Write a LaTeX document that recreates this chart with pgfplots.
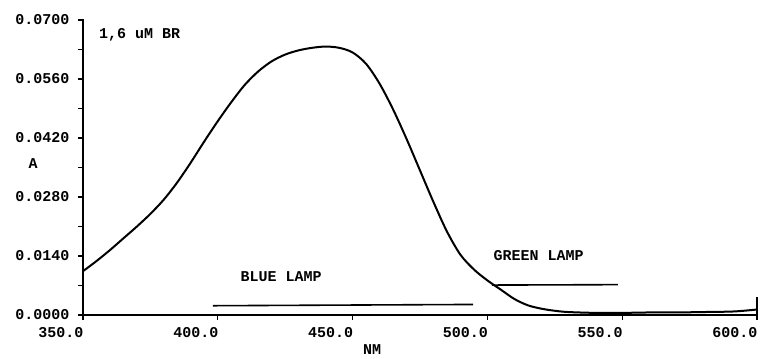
\documentclass[border=0pt]{standalone}
\usepackage{fontspec}
\setmainfont{Liberation Mono}
\usepackage{pgfplots}
\pgfplotsset{compat=1.18}

% absorbance spectrum of 1.6 uM BR
\pgfplotstableread{
nm     A
350    0.0104
355    0.0128
360    0.0154
365    0.0182
370    0.0210
375    0.0240
380    0.0274
385    0.0315
390    0.0362
395    0.0412
400    0.0460
405    0.0505
410    0.0546
415    0.0578
420    0.0602
425    0.0618
430    0.0628
435    0.0634
440    0.0637
445    0.0634
450    0.0623
455    0.0596
460    0.0549
465    0.0488
470    0.0418
475    0.0343
480    0.0268
485    0.0198
490    0.0143
495    0.0108
500    0.0082
505    0.0060
510    0.0038
515    0.0023
520    0.0015
525    0.0010
530    0.0007
540    0.0005
550    0.0005
560    0.0006
570    0.0006
580    0.0007
590    0.0008
595    0.0010
600    0.0013
}\spectrum

% lamp emission bands
\pgfplotstableread{
nm     A
398.2  0.0022
494.7  0.0025
}\bluelamp
\pgfplotstableread{
nm     A
501.7  0.0071
548.4  0.0072
}\greenlamp

\begin{document}
\begin{tikzpicture}
\begin{axis}[
  name=ax,
  at={(0,0)}, anchor=south west,
  scale only axis,
  width=674pt, height=295pt,
  xmin=350, xmax=600,
  ymin=0, ymax=0.07,
  axis x line*=bottom, axis y line*=left,
  axis line style={black, line width=1.5pt},
  xtick={350,400,450,500,550,600},
  xticklabels={350.0,400.0,450.0,500.0,550.0,600.0},
  ytick={0,0.014,0.028,0.042,0.056,0.070},
  yticklabels={0.0000,0.0140,0.0280,0.0420,0.0560,0.0700},
  scaled y ticks=false,
  minor ytick={0.007,0.021,0.035,0.049,0.063},
  tick align=outside,
  major tick length=5pt,
  minor tick length=5pt,
  tick style={black, line width=1.3pt},
  tick label style={font=\fontsize{15}{15}\selectfont\bfseries},
  xticklabel style={anchor=north east, xshift=4pt, yshift=-4pt},
  yticklabel style={anchor=east, xshift=-5pt},
  label style={font=\fontsize{15}{15}\selectfont\bfseries},
  xlabel={NM},
  xlabel style={at={(axis description cs:0.429,-0.118)}, anchor=center},
  ylabel={A},
  ylabel style={at={(axis description cs:-0.074,0.515)}, anchor=center, rotate=-90},
  clip=false,
]
% plotter frame: baseline, absorbance axis and their ticks
\draw[black, line width=1.5pt, line cap=rect] (axis cs:350,0) -- (axis cs:600,0);
\draw[black, line width=1.5pt, line cap=rect] (axis cs:350,0) -- (axis cs:350,0.07);
\pgfplotsinvokeforeach{0,0.007,0.014,0.021,0.028,0.035,0.042,0.049,0.056,0.063,0.070}{
  \draw[black, line width=1.3pt] (axis cs:350,#1) -- ++(-5pt,0pt);
}
\pgfplotsinvokeforeach{350,400,450,500,550}{
  \draw[black, line width=1.3pt] (axis cs:#1,0) -- ++(0pt,-4pt);
}
\addplot[black, line width=2pt, smooth] table[x=nm, y=A] {\spectrum};
\addplot[black, line width=1.6pt] table[x=nm, y=A] {\bluelamp};
\addplot[black, line width=1.6pt] table[x=nm, y=A] {\greenlamp};
\draw[black, line width=1.5pt] (axis cs:600,0) -- (axis cs:600,0.0042);
\node[font=\fontsize{15}{15}\selectfont\bfseries] at (axis cs:371,0.0665) {1,6 uM BR};
\node[font=\fontsize{15}{15}\selectfont\bfseries] at (axis cs:423.5,0.0090) {BLUE LAMP};
\node[font=\fontsize{15}{15}\selectfont\bfseries] at (axis cs:519,0.0140) {GREEN LAMP};
\end{axis}
% page frame around the plot area
\path ([xshift=-83pt,yshift=-44pt]ax.south west) rectangle ([xshift=6pt,yshift=20pt]ax.north east);
\end{tikzpicture}
\end{document}
